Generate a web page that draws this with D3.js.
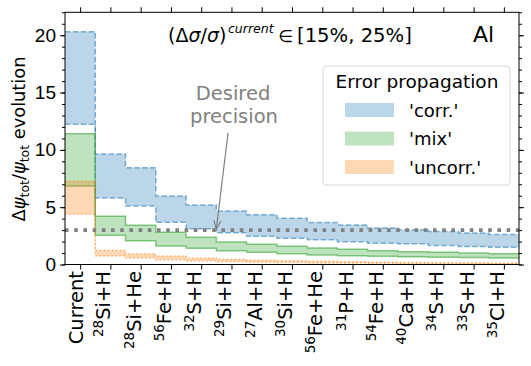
<!DOCTYPE html>
<html>
<head>
<meta charset="utf-8">
<script src="https://cdn.jsdelivr.net/npm/d3@7"></script>
<style>
  body { margin: 0; background: #fff; }
  svg { font-family: "DejaVu Sans", sans-serif; }
</style>
</head>
<body>
<div id="canvas"></div>
<script>
// isotopes / reactions on the x axis
let masses  = ["", "28", "28", "56", "32", "29", "27", "30", "56", "31", "54", "40", "34", "33", "35"]
let species = ["Current", "Si+H", "Si+He", "Fe+H", "S+H", "Si+H", "Al+H", "Si+H", "Fe+He", "P+H", "Fe+H", "Ca+H", "S+H", "S+H", "Cl+H"]

// 'corr.' band
let corrHi = [20.31, 9.64, 8.44, 5.98, 5.2, 4.67, 4.35, 4.03, 3.66, 3.45, 3.18, 3.03, 2.88, 2.74, 2.61]
let corrLo = [12.23, 5.8, 5.1, 3.68, 3.12, 2.78, 2.46, 2.3, 2.15, 1.98, 1.85, 1.8, 1.65, 1.58, 1.5]
// 'mix' band
let mixHi = [11.41, 4.2, 3.42, 2.81, 2.37, 1.96, 1.76, 1.59, 1.44, 1.32, 1.2, 1.12, 1.06, 1.0, 0.94]
let mixLo = [6.85, 2.55, 2.08, 1.61, 1.41, 1.2, 1.06, 0.94, 0.83, 0.77, 0.71, 0.68, 0.63, 0.6, 0.57]
// 'uncorr.' band
let uncorrHi = [7.28, 1.24, 0.94, 0.74, 0.57, 0.45, 0.38, 0.32, 0.28, 0.24, 0.2, 0.18, 0.16, 0.15, 0.14]
let uncorrLo = [4.38, 0.74, 0.57, 0.42, 0.31, 0.24, 0.2, 0.17, 0.14, 0.12, 0.1, 0.09, 0.08, 0.07, 0.07]

let desired = 3.0
let yMajor = [0, 5, 10, 15, 20]

let width = 531
let height = 366
let mLeft = 65, mRight = 519, mTop = 12.3, mBottom = 264.5

let svg = d3.select("#canvas").append("svg")
    .attr("width", width)
    .attr("height", height)

let x = d3.scaleLinear().domain([-0.5, 14.5]).range([mLeft, mRight])
let y = d3.scaleLinear().domain([0, 22]).range([mBottom, mTop])

let bands = [
    { hi: corrHi, lo: corrLo, color: "#1f77b4", dash: "5.5,2.4", label: "'corr.'" },
    { hi: mixHi, lo: mixLo, color: "#2ca02c", dash: null, label: "'mix'" },
    { hi: uncorrHi, lo: uncorrLo, color: "#ff7f0e", dash: "1.5,2.5", label: "'uncorr.'" }
]

// step data: each category covers [i-0.5, i+0.5]
function steps(hi, lo) {
    let pts = hi.map((h, i) => ({ x: i - 0.5, hi: h, lo: lo[i] }))
    pts.push({ x: hi.length - 0.5, hi: hi[hi.length - 1], lo: lo[lo.length - 1] })
    return pts
}

let area = d3.area().curve(d3.curveStepAfter)
    .x(d => x(d.x)).y0(d => y(d.lo)).y1(d => y(d.hi))
let lineHi = d3.line().curve(d3.curveStepAfter).x(d => x(d.x)).y(d => y(d.hi))
let lineLo = d3.line().curve(d3.curveStepAfter).x(d => x(d.x)).y(d => y(d.lo))

let plot = svg.append("g")

bands.forEach(b => {
    let pts = steps(b.hi, b.lo)
    plot.append("path")
        .attr("d", area(pts))
        .attr("fill", b.color)
        .attr("fill-opacity", 0.3)
    ;[lineHi, lineLo].forEach(fn => {
        plot.append("path")
            .attr("d", fn(pts))
            .attr("fill", "none")
            .attr("stroke", b.color)
            .attr("stroke-opacity", 0.55)
            .attr("stroke-width", 1.5)
            .attr("stroke-dasharray", b.dash)
    })
})

// desired precision line
plot.append("line")
    .attr("x1", mLeft).attr("x2", mRight)
    .attr("y1", y(desired)).attr("y2", y(desired))
    .attr("stroke", "#808080")
    .attr("stroke-width", 3.6)
    .attr("stroke-dasharray", "3.6,5.6")

// annotation
let ann = svg.append("g").attr("fill", "#808080").attr("font-size", 19.5).attr("text-anchor", "middle")
ann.append("text").attr("x", 233).attr("y", 99.5).text("Desired")
ann.append("text").attr("x", 234).attr("y", 122.5).text("precision")
let tipX = x(4.5), tipY = y(desired) - 1
svg.append("line")
    .attr("x1", 228).attr("y1", 133)
    .attr("x2", tipX).attr("y2", tipY)
    .attr("stroke", "#808080").attr("stroke-width", 1.2)
let ang = Math.atan2(133 - tipY, 228 - tipX)
svg.append("path")
    .attr("d", d3.line()([
        [tipX + 9 * Math.cos(ang - 0.4), tipY + 9 * Math.sin(ang - 0.4)],
        [tipX, tipY],
        [tipX + 9 * Math.cos(ang + 0.4), tipY + 9 * Math.sin(ang + 0.4)]
    ]))
    .attr("fill", "none").attr("stroke", "#808080").attr("stroke-width", 1.2)

// axes
let axes = svg.append("g").attr("font-family", "DejaVu Sans")

axes.append("g").attr("transform", `translate(${mLeft},0)`)
    .call(d3.axisLeft(y).tickValues(d3.range(0, 23)).tickSize(3).tickFormat(""))
axes.append("g").attr("transform", `translate(${mLeft},0)`)
    .call(d3.axisLeft(y).tickValues(yMajor).tickSize(5).tickPadding(4))
    .selectAll("text").attr("font-size", 19).attr("fill", "#000")
axes.append("g").attr("transform", `translate(${mRight},0)`)
    .call(d3.axisRight(y).tickValues(d3.range(0, 23)).tickSize(3).tickFormat(""))
axes.append("g").attr("transform", `translate(${mRight},0)`)
    .call(d3.axisRight(y).tickValues(yMajor).tickSize(5).tickFormat(""))
axes.append("g").attr("transform", `translate(0,${mTop})`)
    .call(d3.axisTop(x).tickValues(d3.range(15)).tickSize(5).tickFormat(""))
axes.append("g").attr("transform", `translate(0,${mBottom})`)
    .call(d3.axisBottom(x).tickValues(d3.range(15)).tickSize(5).tickFormat(""))

axes.selectAll(".domain").remove()
axes.selectAll(".tick line").attr("stroke", "#000").attr("stroke-width", 1)

svg.append("rect")
    .attr("x", mLeft).attr("y", mTop)
    .attr("width", mRight - mLeft).attr("height", mBottom - mTop)
    .attr("fill", "none").attr("stroke", "#000").attr("stroke-width", 1)

// x tick labels (rotated, with mass-number superscripts)
species.forEach((s, i) => {
    let t = svg.append("text")
        .attr("transform", `translate(${x(i)},271) rotate(-90)`)
        .attr("text-anchor", "end")
        .attr("font-size", 19.5)
        .attr("dy", masses[i] ? "0.3em" : "0.17em")
    if (masses[i]) {
        t.append("tspan").attr("font-size", 13.5).attr("dy", -7).text(masses[i])
        t.append("tspan").attr("dy", 7).text(s)
    } else {
        t.text(s)
    }
})

// y label
let yl = svg.append("text")
    .attr("transform", "translate(24.5,139) rotate(-90)")
    .attr("text-anchor", "middle")
    .attr("font-size", 17.8)
yl.append("tspan").text("Δ")
yl.append("tspan").attr("font-style", "italic").text("ψ")
yl.append("tspan").attr("font-size", 12.5).attr("dy", 4).text("tot")
yl.append("tspan").attr("dy", -4).text("/")
yl.append("tspan").attr("font-style", "italic").text("ψ")
yl.append("tspan").attr("font-size", 12.5).attr("dy", 4).text("tot")
yl.append("tspan").attr("dy", -4).text(" evolution")

// title
let tt = svg.append("text").attr("x", 168).attr("y", 42).attr("font-size", 19)
tt.append("tspan").text("(Δ")
tt.append("tspan").attr("font-style", "italic").text("σ")
tt.append("tspan").text("/")
tt.append("tspan").attr("font-style", "italic").text("σ")
tt.append("tspan").text(")")
tt.append("tspan").attr("x", 228).attr("font-style", "italic").attr("font-size", 12.5).attr("dy", -9).text("current")
tt.append("tspan").attr("x", 278.5).attr("dy", 9).attr("font-size", 17).text("∈")
tt.append("tspan").attr("x", 297).attr("font-size", 19.6).text("[15%, 25%]")

svg.append("text").attr("x", 473).attr("y", 42).attr("font-size", 22).text("Al")

// legend
let lg = svg.append("g")
lg.append("rect")
    .attr("x", 323).attr("y", 66).attr("width", 187).attr("height", 119)
    .attr("rx", 3).attr("fill", "#fff").attr("fill-opacity", 0.8)
    .attr("stroke", "#d9d9d9").attr("stroke-width", 1)
lg.append("text").attr("x", 417).attr("y", 88).attr("text-anchor", "middle")
    .attr("font-size", 18.5).text("Error propagation")
bands.forEach((b, i) => {
    let cy = 110 + i * 28.5
    lg.append("rect")
        .attr("x", 345).attr("y", cy - 7).attr("width", 49).attr("height", 14)
        .attr("fill", b.color).attr("fill-opacity", 0.3)
    lg.append("text").attr("x", 409).attr("y", cy + 6.5)
        .attr("font-size", 18).text(b.label)
})
</script>
</body>
</html>
